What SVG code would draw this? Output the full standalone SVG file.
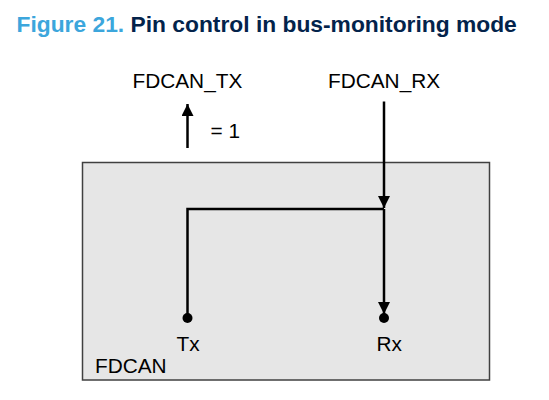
<svg xmlns="http://www.w3.org/2000/svg" width="549" height="400" viewBox="0 0 549 400">
<defs>
<style>
.t{font-family:"Liberation Sans",Arial,sans-serif;font-size:20.8px;fill:#000}
.ln{fill:none;stroke:#000;stroke-width:2.5}
.title{font-family:"Liberation Sans",Arial,sans-serif;font-size:22.8px;font-weight:bold}
</style>
<marker id="ah" markerUnits="userSpaceOnUse" viewBox="0 0 12 12" refX="12" refY="6" markerWidth="12" markerHeight="12" orient="auto">
<path d="M0,0 L12,6 L0,12 z" fill="#000"/>
</marker>
</defs>
<text class="title" x="16.5" y="32"><tspan fill="#3CA6DC">Figure 21.</tspan><tspan fill="#03234B"> Pin control in bus-monitoring mode</tspan></text>
<g id="fdcan">
<rect x="82.5" y="162.5" width="407" height="217.5" fill="#E6E6E6" stroke="#404040" stroke-width="1.5"/>
<text class="t" x="95" y="373">FDCAN</text>
</g>
<g id="fdcan_tx">
<text class="t" x="132.5" y="88">FDCAN_TX</text>
<text class="t" x="210.5" y="138">= 1</text>
</g>
<g id="fdcan_rx">
<text class="t" x="328" y="88">FDCAN_RX</text>
</g>
<g id="tx_pin">
<circle cx="187.5" cy="318" r="5"/>
<text class="t" x="176.5" y="351">Tx</text>
</g>
<g id="rx_pin">
<circle cx="384" cy="318" r="5"/>
<text class="t" x="376.5" y="351">Rx</text>
</g>
<g id="connectors">
<path class="ln" d="M187.5,148 V104" marker-end="url(#ah)"/>
<path class="ln" d="M384,101.5 V208" marker-end="url(#ah)"/>
<path class="ln" d="M384,209 V314" marker-end="url(#ah)"/>
<path class="ln" d="M384,209 H187.5 V318"/>
</g>
</svg>
